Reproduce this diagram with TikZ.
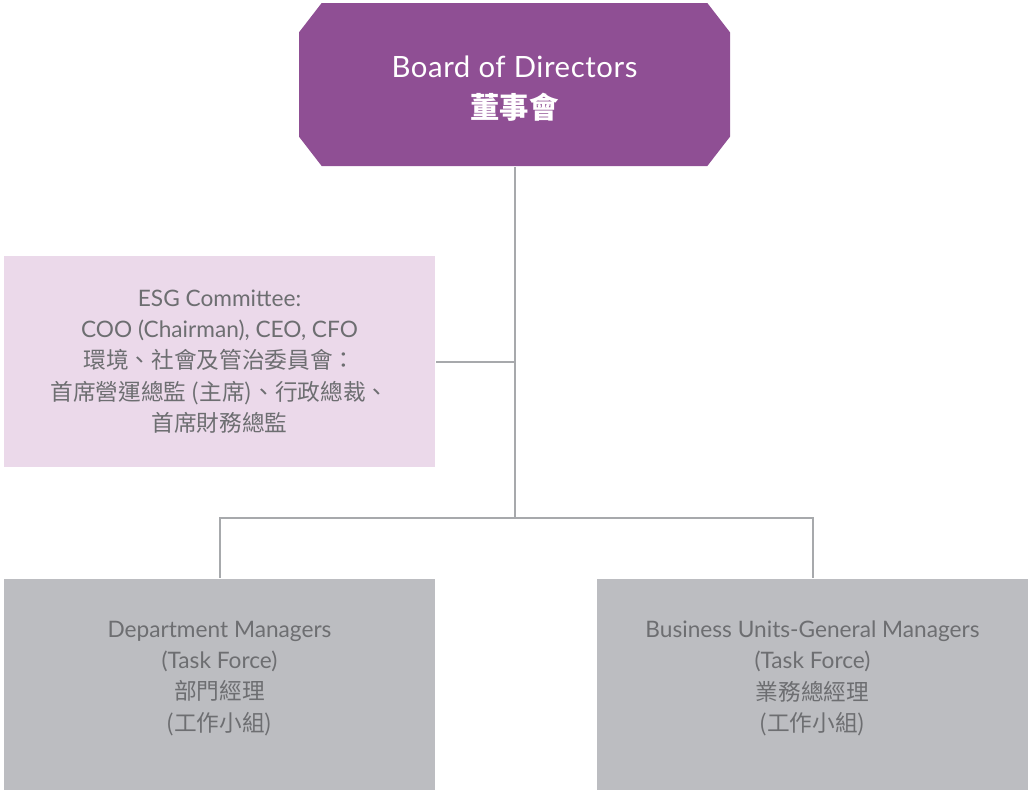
\documentclass[tikz,border=0pt]{standalone}
\usepackage{fontspec}
\setmainfont{Lato}
\newfontfamily\cjk{Noto Sans CJK TC}
\newfontfamily\titulo[LetterSpace=2]{Lato}
\definecolor{morado}{HTML}{8F4F94}
\definecolor{rosa}{HTML}{EBD9EA}
\definecolor{gris}{HTML}{BCBDC1}
\definecolor{linea}{HTML}{A7A9AC}
\definecolor{texto}{HTML}{6D6E71}
\begin{document}
\begin{tikzpicture}[x=0.75pt, y=-0.75pt, line width=1.5pt,
  caja/.style={rectangle, minimum width=323.25pt, minimum height=158.25pt, inner sep=0pt,
    text=texto, align=center, font=\fontsize{17}{23.5}\selectfont},
  octogono/.style={rectangle, minimum width=323.25pt, minimum height=122.25pt, inner sep=0pt,
    text=white, align=center, font=\fontsize{22}{31}\selectfont,
    path picture={\fill [morado]
      ([xshift=17pt]path picture bounding box.north west) --
      ([xshift=-17pt]path picture bounding box.north east) --
      ([yshift=-22pt]path picture bounding box.north east) --
      ([yshift=22pt]path picture bounding box.south east) --
      ([xshift=-17pt]path picture bounding box.south east) --
      ([xshift=17pt]path picture bounding box.south west) --
      ([yshift=22pt]path picture bounding box.south west) --
      ([yshift=-22pt]path picture bounding box.north west) -- cycle;}},
  conector/.style={draw=linea, line width=1.5pt}]
\useasboundingbox (0,0) rectangle (1028,790);
% Nodos
\node [octogono] (board) at (514.5,84.5)
  {\rule{0pt}{22pt}\titulo Board of Directors\\ {\cjk\bfseries 董事會}};
\node [caja, fill=rosa] (esg) at (219.5,361.5)
  {ESG Committee:\\ COO (Chairman), CEO, CFO\\ {\cjk 環境、社會及管治委員會：}\\
   {\cjk 首席營運總監 (主席)、行政總裁、}\\ {\cjk 首席財務總監}};
\node [caja, fill=gris] (dept) at (219.5,684)
  {Department Managers\\ (Task Force)\\ {\cjk 部門經理}\\ {\cjk (工作小組)}\rule[-12pt]{0pt}{0pt}};
\node [caja, fill=gris] (bu) at (812.5,684)
  {Business Units-General Managers\\ (Task Force)\\ {\cjk 業務總經理}\\ {\cjk (工作小組)}\rule[-12pt]{0pt}{0pt}};
\coordinate (cruce) at (board.south |- 0,518);
% Conexiones
\path [conector] (board.south) -- (cruce);
\path [conector] (esg.east) -- (esg.east -| board.south);
\path [conector] (dept.north) -- (dept.north |- cruce) -- (bu.north |- cruce) -- (bu.north);
\end{tikzpicture}
\end{document}
